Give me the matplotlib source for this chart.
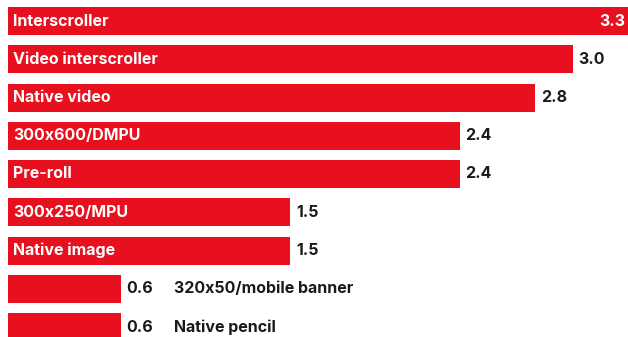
import matplotlib
matplotlib.use("Agg")
import matplotlib.pyplot as plt

categories = [
    "Interscroller",
    "Video interscroller",
    "Native video",
    "300x600/DMPU",
    "Pre-roll",
    "300x250/MPU",
    "Native image",
    "320x50/mobile banner",
    "Native pencil",
]
values = [3.3, 3.0, 2.8, 2.4, 2.4, 1.5, 1.5, 0.6, 0.6]

RED = "#E8101E"
DARK = "#1a1a1a"
FONT = "Inter"
FS = 11.5

W, H, DPI = 628, 337, 100
px_per_unit = 188.3
left_px = 8
pitch_px = 38.25
first_center_px = 21

fig = plt.figure(figsize=(W / DPI, H / DPI), dpi=DPI)
ax = fig.add_axes([0, 0, 1, 1])

x0 = -left_px / px_per_unit
ax.set_xlim(x0, x0 + W / px_per_unit)
ytop = -first_center_px / pitch_px
ax.set_ylim(ytop + H / pitch_px, ytop)

pos = list(range(len(categories)))
ax.barh(pos, values, height=28 / pitch_px, color=RED, linewidth=0)

xmax = ax.get_xlim()[1]
pad = 5.5 / px_per_unit
for y, cat, v in zip(pos, categories, values):
    if v > xmax:
        ax.text(xmax - 3 / px_per_unit, y, f"{v:.1f}", color="white", fontsize=FS,
                fontweight="bold", family=FONT, ha="right", va="center")
    else:
        ax.text(v + pad, y, f"{v:.1f}", color=DARK, fontsize=FS,
                fontweight="bold", family=FONT, ha="left", va="center")
    if v >= 1.0:
        ax.text(5 / px_per_unit, y, cat, color="white", fontsize=FS,
                fontweight="bold", family=FONT, ha="left", va="center")
    else:
        ax.text((174 - left_px) / px_per_unit, y, cat, color=DARK, fontsize=FS,
                fontweight="bold", family=FONT, ha="left", va="center")

ax.axis("off")
fig.savefig("out.png", dpi=DPI)
